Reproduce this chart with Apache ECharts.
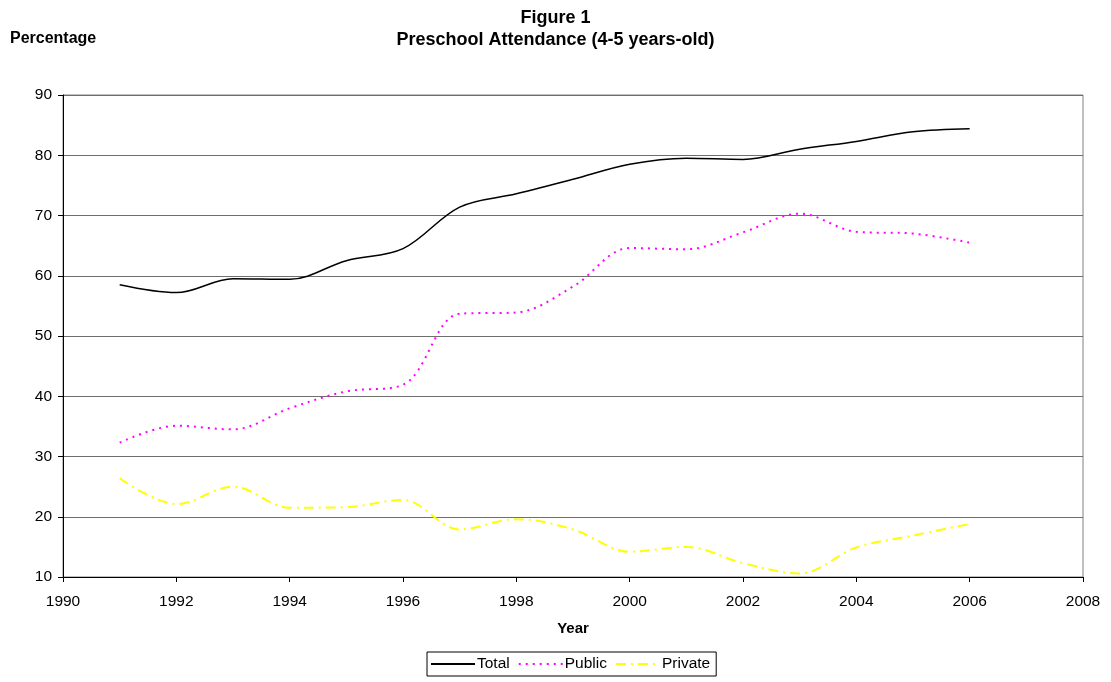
<!DOCTYPE html>
<html>
<head>
<meta charset="utf-8">
<script src="https://cdn.jsdelivr.net/npm/echarts@6/dist/echarts.min.js"></script>
<style>
html,body{margin:0;padding:0;background:#fff;}
#chart{width:1111px;height:682px;}
</style>
</head>
<body>
<div id="chart"></div>
<script>
var years = [1991,1992,1993,1994,1995,1996,1997,1998,1999,2000,2001,2002,2003,2004,2005,2006];
var totalVals   = [58.5,57.2,59.5,59.4,62.5,64.5,71.4,73.6,76.0,78.5,79.5,79.3,81.0,82.3,83.9,84.4];
var publicVals  = [32.3,35.1,34.5,38.0,40.8,41.9,53.7,53.9,58.2,64.6,64.4,67.2,70.3,67.3,67.0,65.5];
var privateVals = [26.4,22.1,25.0,21.5,21.6,22.8,17.9,19.6,17.9,14.2,15.0,12.3,10.6,14.9,16.9,18.8];
var seriesNames = ['Total','Public','Private'];
var xTicks = {min:1990, max:2008, interval:2};
var yTicks = {min:10, max:90, interval:10};

function pairs(vals){ return years.map(function(y,i){ return [y, vals[i]]; }); }

var font = 'Liberation Sans, Arial, sans-serif';
var chart = echarts.init(document.getElementById('chart'), null, {renderer:'canvas'});
chart.setOption({
  animation:false,
  backgroundColor:'#fff',
  title:{
    text:'Figure 1\nPreschool Attendance (4-5 years-old)',
    left:'center', top:2,
    textStyle:{fontFamily:font, fontSize:18, fontWeight:'bold', color:'#000', lineHeight:22}
  },
  graphic:[{
    type:'text', left:10, top:31,
    style:{text:'Percentage', font:'bold 16px Liberation Sans, Arial, sans-serif', fill:'#000'}
  }],
  grid:{left:63, right:28, top:95, bottom:105, show:true, borderColor:'#808080', borderWidth:1, containLabel:false},
  legend:{
    data:seriesNames,
    bottom:6, left:427,
    itemWidth:44, itemHeight:12, itemGap:8,
    padding:[4,6,4,3],
    borderColor:'#000', borderWidth:1,
    itemStyle:{color:'transparent', borderColor:'transparent', borderWidth:0},
    textStyle:{fontFamily:font, fontSize:15.5, color:'#000', padding:[0,0,0,-3]}
  },
  xAxis:{
    type:'value', min:xTicks.min, max:xTicks.max, interval:xTicks.interval,
    name:'Year', nameLocation:'middle', nameGap:44,
    nameTextStyle:{fontFamily:font, fontSize:15, fontWeight:'bold', color:'#000'},
    axisLine:{show:true, lineStyle:{color:'#000', width:1}},
    axisTick:{show:true, length:5, lineStyle:{color:'#000'}},
    axisLabel:{fontFamily:font, fontSize:15.5, color:'#000', margin:17, formatter:function(v){return String(v);}},
    splitLine:{show:false}
  },
  yAxis:{
    type:'value', min:yTicks.min, max:yTicks.max, interval:yTicks.interval,
    axisLine:{show:true, lineStyle:{color:'#000', width:1}},
    axisTick:{show:true, length:5, lineStyle:{color:'#000'}},
    axisLabel:{fontFamily:font, fontSize:15.5, color:'#000', margin:11},
    splitLine:{show:true, lineStyle:{color:'#6e6e6e', width:1}}
  },
  series:[
    {name:seriesNames[0], type:'line', data:pairs(totalVals), smooth:0.35, symbol:'none',
     lineStyle:{color:'#000', width:1.5, type:'solid'}, itemStyle:{color:'#000'}},
    {name:seriesNames[1], type:'line', data:pairs(publicVals), smooth:0.35, symbol:'none',
     lineStyle:{color:'#ff00ff', width:2, type:[2,5]}, itemStyle:{color:'#ff00ff'}},
    {name:seriesNames[2], type:'line', data:pairs(privateVals), smooth:0.35, symbol:'none',
     lineStyle:{color:'#ffff00', width:2, type:[10,5,2,5]}, itemStyle:{color:'#ffff00'}}
  ]
});
</script>
</body>
</html>
